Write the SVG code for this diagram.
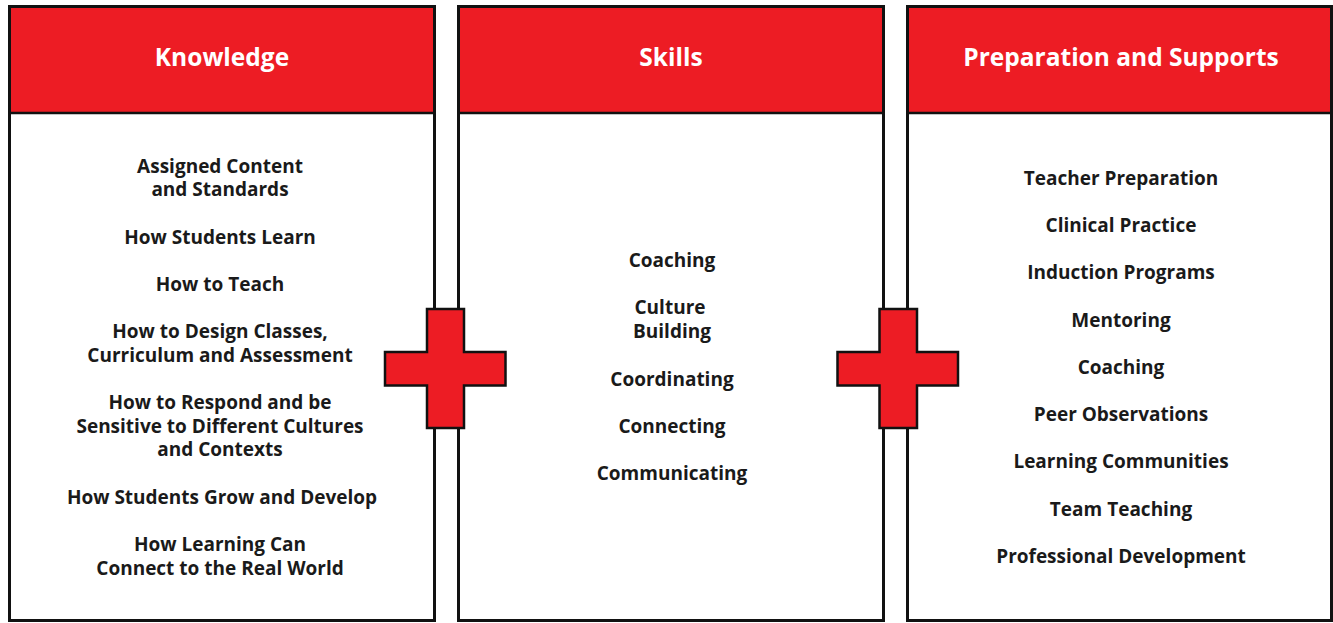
<svg xmlns="http://www.w3.org/2000/svg" width="1333" height="623" viewBox="0 0 1333 623">
<style>
.panel{fill:#ffffff;stroke:#111111;stroke-width:3}
.head{fill:#ED1C24}
.div{stroke:#111111;stroke-width:2.5}
.ht{font-family:"Open Sans","Liberation Sans",sans-serif;font-weight:700;font-size:24.5px;fill:#ffffff;text-anchor:middle}
.t{font-family:"Open Sans","Liberation Sans",sans-serif;font-weight:700;font-size:19px;fill:#1a1a1a;text-anchor:middle}
.plus{fill:#ED1C24;stroke:#111111;stroke-width:2.5;stroke-linejoin:miter}
</style>
<rect width="1333" height="623" fill="#ffffff"/>
<g id="knowledge">
<rect class="panel" x="9.5" y="6.5" width="425" height="614"/>
<rect class="head" x="11" y="8" width="422" height="104.5"/>
<line class="div" x1="11" y1="113" x2="433" y2="113"/>
<text class="ht" x="222" y="66">Knowledge</text>
<text class="t" x="220" y="173">Assigned Content</text>
<text class="t" x="220" y="196">and Standards</text>
<text class="t" x="220" y="244">How Students Learn</text>
<text class="t" x="220" y="291">How to Teach</text>
<text class="t" x="220" y="338">How to Design Classes,</text>
<text class="t" x="220" y="362">Curriculum and Assessment</text>
<text class="t" x="220" y="409">How to Respond and be</text>
<text class="t" x="220" y="433">Sensitive to Different Cultures</text>
<text class="t" x="220" y="456">and Contexts</text>
<text class="t" x="222" y="504">How Students Grow and Develop</text>
<text class="t" x="220" y="551">How Learning Can</text>
<text class="t" x="220" y="575">Connect to the Real World</text>
</g>
<g id="skills">
<rect class="panel" x="458.5" y="6.5" width="425" height="614"/>
<rect class="head" x="460" y="8" width="422" height="104.5"/>
<line class="div" x1="460" y1="113" x2="882" y2="113"/>
<text class="ht" x="671" y="66">Skills</text>
<text class="t" x="672" y="267">Coaching</text>
<text class="t" x="670" y="314">Culture</text>
<text class="t" x="672" y="338">Building</text>
<text class="t" x="672" y="386">Coordinating</text>
<text class="t" x="672" y="433">Connecting</text>
<text class="t" x="672" y="480">Communicating</text>
</g>
<g id="preparation">
<rect class="panel" x="907.5" y="6.5" width="424" height="614"/>
<rect class="head" x="909" y="8" width="421" height="104.5"/>
<line class="div" x1="909" y1="113" x2="1330" y2="113"/>
<text class="ht" x="1121" y="66">Preparation and Supports</text>
<text class="t" x="1121" y="185">Teacher Preparation</text>
<text class="t" x="1121" y="232">Clinical Practice</text>
<text class="t" x="1121" y="279">Induction Programs</text>
<text class="t" x="1121" y="327">Mentoring</text>
<text class="t" x="1121" y="374">Coaching</text>
<text class="t" x="1121" y="421">Peer Observations</text>
<text class="t" x="1121" y="468">Learning Communities</text>
<text class="t" x="1121" y="516">Team Teaching</text>
<text class="t" x="1121" y="563">Professional Development</text>
</g>
<g id="connectors">
<path class="plus" d="M427,309 H464 V352 H505.5 V385.5 H464 V428 H427 V385.5 H385 V352 H427 Z"/>
<path class="plus" d="M879.5,309 H917 V352 H958 V385.5 H917 V428 H879.5 V385.5 H837.5 V352 H879.5 Z"/>
</g>
</svg>
